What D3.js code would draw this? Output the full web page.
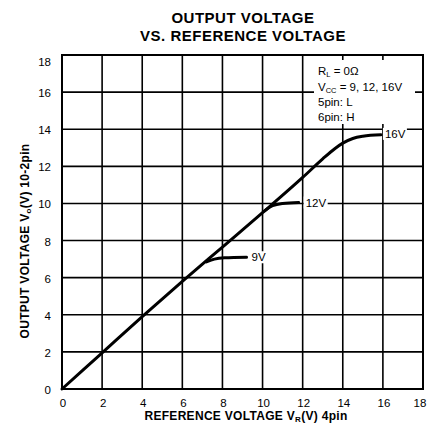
<!DOCTYPE html>
<html><head><meta charset="utf-8">
<script src="https://cdn.jsdelivr.net/npm/d3@7"></script>
<style>
html,body{margin:0;padding:0;background:#fff;}
svg{display:block;font-family:"Liberation Sans",Arial,sans-serif;}
</style></head>
<body><svg id="c" width="428" height="427"></svg>
<script>
const xTicks = [0,2,4,6,8,10,12,14,16,18];
const yTicks = [0,2,4,6,8,10,12,14,16,18];
// main curve (Vcc = 16V)
const main16 = [[0,0],[2,1.95],[4,3.9],[6,5.8],[8,7.65],[10,9.5],[12,11.4],[13,12.4],[13.6,12.95],[14,13.25],[14.5,13.5],[15,13.62],[15.9,13.7]];
const branch9 = [[7.2,6.85],[7.6,7.0],[8.1,7.07],[9.2,7.1]];
const branch12 = [[10.1,9.6],[10.5,9.88],[11,10.0],[11.8,10.05]];
const curveLabels = [{t:"9V",x:9.45,y:7.1},{t:"12V",x:12.15,y:10.05},{t:"16V",x:16.1,y:13.75}];
const legendLines = ["R_L = 0Ω","V_CC = 9, 12, 16V","5pin: L","6pin: H"];

const svg = d3.select("#c");
const x = d3.scaleLinear().domain([0,18]).range([62,423]);
const y = d3.scaleLinear().domain([0,18]).range([389,55]);

// title
svg.append("text").attr("x",243).attr("y",23).attr("text-anchor","middle")
  .attr("font-weight","bold").attr("font-size",15).attr("letter-spacing",0.5).text("OUTPUT VOLTAGE");
svg.append("text").attr("x",243).attr("y",41).attr("text-anchor","middle")
  .attr("font-weight","bold").attr("font-size",15).attr("letter-spacing",0.5).text("VS. REFERENCE VOLTAGE");

// grid
const g = svg.append("g");
g.selectAll(".vg").data(xTicks.slice(1,-1)).join("line")
  .attr("x1",d=>x(d)).attr("x2",d=>x(d)).attr("y1",y(0)).attr("y2",y(18))
  .attr("stroke","#000").attr("stroke-width",1.6);
g.selectAll(".hg").data(yTicks.slice(1,-1)).join("line")
  .attr("y1",d=>y(d)).attr("y2",d=>y(d)).attr("x1",x(0)).attr("x2",x(18))
  .attr("stroke","#000").attr("stroke-width",1.6);

// legend box (white patch)
svg.append("rect").attr("x",314).attr("y",60).attr("width",101).attr("height",64).attr("fill","#fff");
const lg = svg.append("text").attr("font-size",11.5);
const lx = 318;
const t1 = lg.append("tspan").attr("x",lx).attr("y",75);
t1.append("tspan").text("R");
t1.append("tspan").attr("font-size",7.5).attr("dy",2).text("L");
t1.append("tspan").attr("dy",-2).text(" = 0Ω");
const t2 = lg.append("tspan").attr("x",lx).attr("y",91);
t2.append("tspan").text("V");
t2.append("tspan").attr("font-size",7.5).attr("dy",2).text("CC");
t2.append("tspan").attr("dy",-2).text(" = 9,  12,  16V");
lg.append("tspan").attr("x",lx).attr("y",106).text(legendLines[2]);
lg.append("tspan").attr("x",lx).attr("y",121).text(legendLines[3]);

// curve labels with white background
curveLabels.forEach(l=>{
  const w = l.t.length*7+3;
  svg.append("rect").attr("x",x(l.x)-2).attr("y",y(l.y)-6).attr("width",w).attr("height",12).attr("fill","#fff");
  svg.append("text").attr("x",x(l.x)).attr("y",y(l.y)+4).attr("font-size",11.5).text(l.t);
});

// border
svg.append("rect").attr("x",x(0)).attr("y",y(18)).attr("width",x(18)-x(0)).attr("height",y(0)-y(18))
  .attr("fill","none").attr("stroke","#000").attr("stroke-width",2);

// curves
const line = d3.line().x(d=>x(d[0])).y(d=>y(d[1])).curve(d3.curveMonotoneX);
[main16,branch9,branch12].forEach(d=>{
  svg.append("path").datum(d).attr("d",line).attr("fill","none").attr("stroke","#000").attr("stroke-width",3).attr("stroke-linecap","round");
});

// tick labels
svg.selectAll(".xt").data(xTicks).join("text").attr("x",d=>Math.min(x(d)+1,420)).attr("y",407)
  .attr("text-anchor","middle").attr("font-size",11.5).text(d=>d);
svg.selectAll(".yt").data(yTicks).join("text").attr("x",51).attr("y",d=>d===18?y(d)+11:y(d)+5)
  .attr("text-anchor","end").attr("font-size",11.5).text(d=>d);

// axis titles
const xl = svg.append("text").attr("x",246).attr("y",420).attr("text-anchor","middle").attr("font-weight","bold").attr("font-size",12).attr("letter-spacing",0.3);
xl.append("tspan").text("REFERENCE VOLTAGE V");
xl.append("tspan").attr("font-size",8).attr("dy",2).text("R");
xl.append("tspan").attr("dy",-2).text("(V) 4pin");
const yl = svg.append("text").attr("transform","translate(29,241) rotate(-90)").attr("text-anchor","middle").attr("font-weight","bold").attr("font-size",12).attr("letter-spacing",0.3);
yl.append("tspan").text("OUTPUT VOLTAGE V");
yl.append("tspan").attr("font-size",8).attr("dy",2).text("o");
yl.append("tspan").attr("dy",-2).text("(V) 10-2pin");
</script></body></html>
